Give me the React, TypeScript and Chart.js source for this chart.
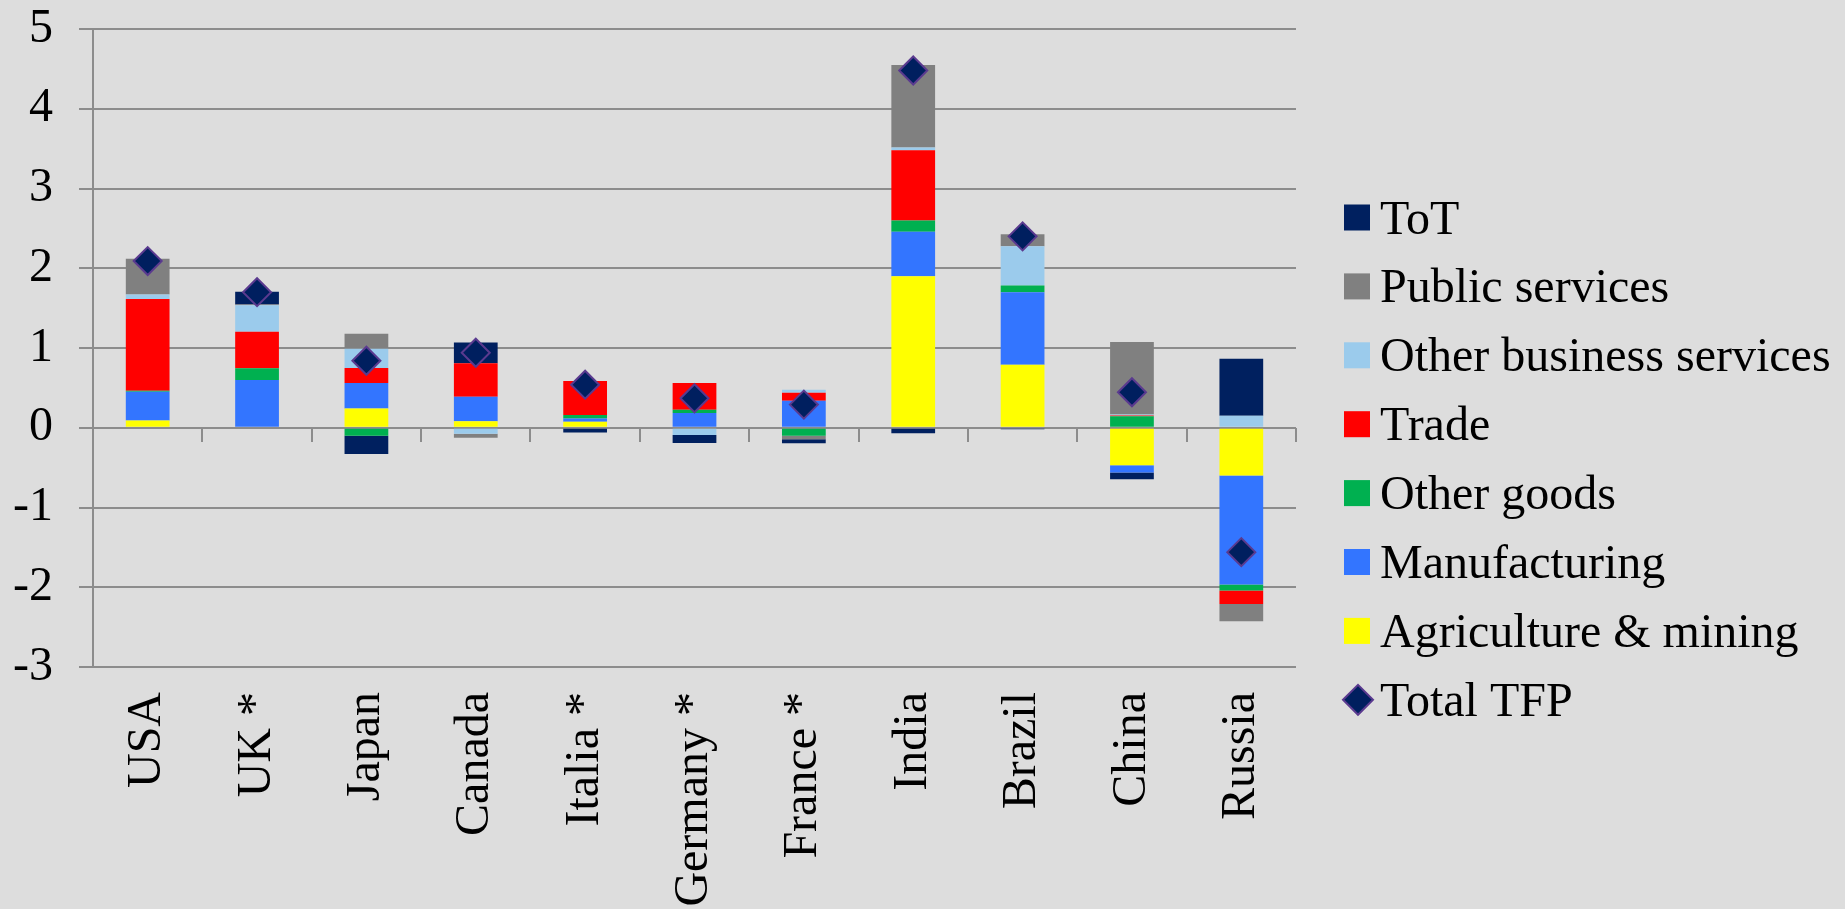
import React, { useEffect, useRef } from 'react';
import { Chart, registerables } from 'chart.js';

Chart.register(...registerables);

const categories = ['USA', 'UK *', 'Japan', 'Canada', 'Italia *', 'Germany *', 'France *', 'India', 'Brazil', 'China', 'Russia'];

const agriculture = [0.09, 0, 0.24, 0.08, 0.075, 0, 0, 1.9, 0.79, -0.47, -0.6];
const manufacturing = [0.36, 0.6, 0.32, 0.31, 0.04, 0.185, 0.34, 0.557, 0.91, -0.09, -1.365];
const otherGoods = [0.015, 0.145, -0.1, 0, 0.045, 0.04, -0.1, 0.143, 0.085, 0.145, -0.075];
const trade = [1.15, 0.46, 0.19, 0.42, 0.425, 0.335, 0.1, 0.88, 0, 0.01, -0.17];
const otherBusiness = [0.055, 0.33, 0.24, -0.075, 0, -0.09, 0.035, 0.035, 0.49, 0.01, 0.15];
const publicServices = [0.45, 0.01, 0.19, -0.05, 0, 0, -0.045, 1.035, 0.15, 0.91, -0.215];
const tot = [0, 0.16, -0.23, 0.26, -0.06, -0.1, -0.05, -0.07, -0.02, -0.085, 0.715];
const totalTFP = [2.09, 1.7, 0.84, 0.94, 0.54, 0.37, 0.29, 4.48, 2.4, 0.445, -1.56];

const yMin = -3;
const yMax = 5;
const yStep = 1;

const FONT_FAMILY = '"Liberation Serif", "Times New Roman", serif';
const GRID = '#8c8c8c';

const zeroPad = (s: any) => {
  s.paddingTop = 0;
  s.paddingBottom = 0;
  s.paddingLeft = 0;
  s.paddingRight = 0;
};

const legendPlugin = {
  id: 'sideLegend',
  afterDraw(chart: any) {
    const ctx = chart.ctx;
    const datasets = chart.data.datasets;
    const bars = datasets.filter((d: any) => d.type !== 'line').slice().reverse();
    const lines = datasets.filter((d: any) => d.type === 'line');
    const items = [...bars, ...lines];
    const boxLeft = 1344;
    const boxSize = 26;
    const firstCenter = 217.5;
    const step = 68.9;
    const textX = 1380;
    ctx.save();
    ctx.font = `48px ${FONT_FAMILY}`;
    ctx.textBaseline = 'alphabetic';
    ctx.textAlign = 'left';
    items.forEach((d: any, i: number) => {
      const cy = firstCenter + i * step;
      if (d.type === 'line') {
        const cx = boxLeft + boxSize / 2 + 1;
        const r = 15;
        ctx.beginPath();
        ctx.moveTo(cx - r, cy);
        ctx.lineTo(cx, cy - r);
        ctx.lineTo(cx + r, cy);
        ctx.lineTo(cx, cy + r);
        ctx.closePath();
        ctx.fillStyle = d.pointBackgroundColor;
        ctx.fill();
        ctx.lineWidth = 2;
        ctx.strokeStyle = d.pointBorderColor;
        ctx.stroke();
      } else {
        ctx.fillStyle = d.backgroundColor;
        ctx.fillRect(boxLeft, cy - boxSize / 2, boxSize, boxSize);
      }
      ctx.fillStyle = '#000000';
      ctx.fillText(d.label, textX, cy + 16);
    });
    ctx.restore();
  },
};

export default function App() {
  const canvasRef = useRef<HTMLCanvasElement | null>(null);

  useEffect(() => {
    const canvas = canvasRef.current;
    if (!canvas) return;
    const font = { family: FONT_FAMILY, size: 48 };
    const barCommon = { xAxisID: 'x', yAxisID: 'y', categoryPercentage: 0.4, barPercentage: 1.0, borderWidth: 0, order: 1 };
    const chart = new Chart(canvas, {
      type: 'bar',
      data: {
        labels: categories,
        datasets: [
          { ...barCommon, label: 'Agriculture & mining', data: agriculture, backgroundColor: '#FFFF00' },
          { ...barCommon, label: 'Manufacturing', data: manufacturing, backgroundColor: '#3375FF' },
          { ...barCommon, label: 'Other goods', data: otherGoods, backgroundColor: '#00B050' },
          { ...barCommon, label: 'Trade', data: trade, backgroundColor: '#FF0000' },
          { ...barCommon, label: 'Other business services', data: otherBusiness, backgroundColor: '#9BCBEC' },
          { ...barCommon, label: 'Public services', data: publicServices, backgroundColor: '#808080' },
          { ...barCommon, label: 'ToT', data: tot, backgroundColor: '#00205F' },
          {
            type: 'line',
            label: 'Total TFP',
            data: totalTFP,
            xAxisID: 'x',
            yAxisID: 'y',
            stack: 'tfp',
            order: 0,
            showLine: false,
            pointStyle: 'rectRot',
            pointRadius: 14,
            pointHoverRadius: 14,
            pointBorderWidth: 2,
            pointBackgroundColor: '#001F5F',
            pointBorderColor: '#5A3A8F',
            backgroundColor: '#001F5F',
            borderColor: '#5A3A8F',
          } as any,
        ],
      },
      options: {
        animation: false,
        responsive: false,
        events: [],
        layout: { padding: { top: 29, right: 549, left: 0, bottom: 0 } },
        plugins: { legend: { display: false }, tooltip: { enabled: false } },
        scales: {
          x: {
            type: 'category',
            stacked: true,
            position: 'bottom',
            offset: true,
            grid: { display: false, drawTicks: false, drawOnChartArea: false },
            border: { display: false },
            ticks: { font, color: '#000000', minRotation: 90, maxRotation: 90, autoSkip: false, padding: 25 },
            afterFit: (s: any) => { s.height = 242; zeroPad(s); },
          },
          xZero: {
            type: 'category',
            labels: categories,
            position: { y: 0 },
            offset: true,
            grid: { display: true, offset: true, drawOnChartArea: false, drawTicks: true, tickLength: 14, color: GRID, lineWidth: 2 },
            border: { display: false },
            ticks: { display: false },
            afterFit: (s: any) => { zeroPad(s); },
          },
          y: {
            stacked: true,
            min: yMin,
            max: yMax,
            ticks: { stepSize: yStep, font, color: '#000000', padding: 26 },
            grid: { color: GRID, lineWidth: 2, tickLength: 14, drawTicks: true },
            border: { display: true, color: GRID, width: 2 },
            afterFit: (s: any) => { s.width = 93; zeroPad(s); },
          },
        } as any,
      },
      plugins: [legendPlugin],
    } as any);
    return () => chart.destroy();
  }, []);

  return (
    <div style={{ position: 'fixed', left: 0, top: 0, width: 1845, height: 909, background: '#dddddd' }}>
      <canvas ref={canvasRef} width={1845} height={909} style={{ width: 1845, height: 909, display: 'block' }} />
    </div>
  );
}
